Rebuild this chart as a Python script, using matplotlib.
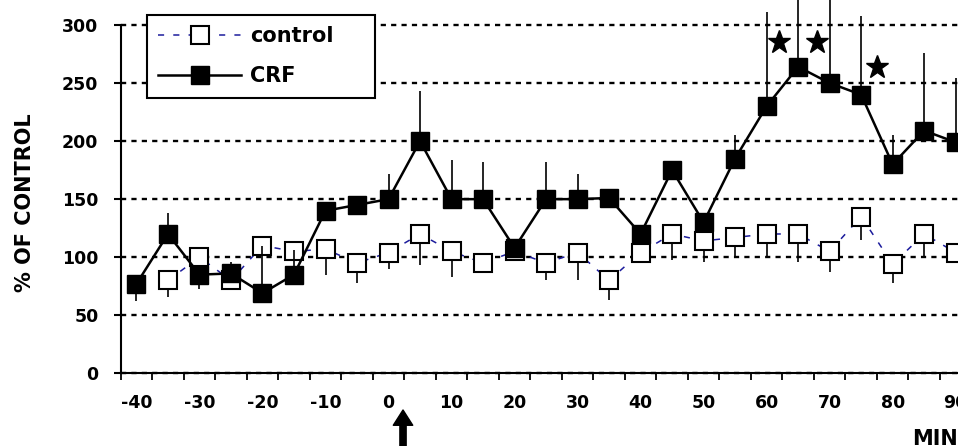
import numpy as np
import matplotlib
matplotlib.use("Agg")
from matplotlib import pyplot as plt
from matplotlib.ticker import MultipleLocator, FixedLocator

plt.rcParams["axes.unicode_minus"] = False

# time (min) and % of control values
t_crf = [-40, -35, -30, -25, -20, -15, -10, -5, 0, 5, 10, 15, 20, 25, 30,
         35, 40, 45, 50, 55, 60, 65, 70, 75, 80, 85, 90]
crf = [77, 120, 85, 86, 69, 85, 140, 145, 150, 200, 150, 150, 108, 150, 150,
       151, 120, 175, 130, 185, 230, 264, 250, 240, 180, 209, 199]
crf_lo = [15, 0, 12, 0, 0, 0, 0, 0, 0, 0, 0, 0, 0, 0, 0,
          0, 0, 0, 0, 0, 0, 0, 0, 0, 0, 0, 0]
crf_hi = [0, 18, 0, 10, 41, 21, 0, 0, 22, 43, 34, 32, 0, 32, 22,
          0, 0, 0, 0, 20, 81, 70, 80, 68, 25, 67, 55]

t_ctl = [-35, -30, -25, -20, -15, -10, -5, 0, 5, 10, 15, 20, 25, 30,
         35, 40, 45, 50, 55, 60, 65, 70, 75, 80, 85, 90]
ctl = [80, 100, 80, 110, 105, 107, 95, 104, 120, 105, 95, 105, 95, 104,
       80, 104, 120, 114, 117, 120, 120, 105, 135, 94, 120, 104]
ctl_lo = [14, 10, 0, 0, 0, 22, 17, 14, 27, 22, 0, 0, 15, 24,
          17, 0, 22, 18, 17, 20, 24, 18, 20, 16, 20, 0]

star_x = [62, 68, 77.5]
star_y = [285, 285, 264]

xticks = [-40, -30, -20, -10, 0, 10, 20, 30, 40, 50, 60, 70, 80, 90]
yticks = [0, 50, 100, 150, 200, 250, 300]

fig = plt.figure(figsize=(9.58, 4.46), dpi=100)
ax = fig.add_axes([120.7 / 958, 72.7 / 446, 837.3 / 958, 348.3 / 446])

# dotted horizontal grid
ax.set_axisbelow(True)
ax.yaxis.grid(True, color="black", linestyle=(0, (2.2, 2.2)), linewidth=1.7)

# control series
eb = ax.errorbar(t_ctl, ctl, yerr=[ctl_lo, [0] * len(ctl)], fmt="none",
                 ecolor="black", elinewidth=1.2, capsize=0, zorder=2)
for c in eb[2]:
    c.set_clip_on(False)
ax.plot(t_ctl, ctl, color="#1c1c9c", linestyle=(0, (4, 6)), linewidth=1.1,
        marker="s", markersize=12.5, markerfacecolor="white",
        markeredgecolor="black", markeredgewidth=1.5, label="control",
        zorder=3)

# CRF series
eb = ax.errorbar(t_crf, crf, yerr=[crf_lo, crf_hi], fmt="none",
                 ecolor="black", elinewidth=1.2, capsize=0, zorder=4)
for c in eb[2]:
    c.set_clip_on(False)
ax.plot(t_crf, crf, color="black", linewidth=1.8, marker="s",
        markersize=12.5, markerfacecolor="black", markeredgecolor="black",
        label="CRF", zorder=5)

ax.plot(star_x, star_y, linestyle="none", marker="*", markersize=17,
        color="black", zorder=6, clip_on=False)

ax.set_xlim(-42.5, 90.37)
ax.set_ylim(0, 300)
ax.spines["top"].set_visible(False)
ax.spines["right"].set_visible(False)
ax.spines["left"].set_linewidth(1.5)
ax.spines["bottom"].set_linewidth(1.5)

ax.xaxis.set_major_locator(FixedLocator(xticks))
ax.xaxis.set_minor_locator(MultipleLocator(5, offset=2.5))
ax.yaxis.set_major_locator(FixedLocator(yticks))
ax.tick_params(axis="x", which="major", length=0, pad=15,
               labelsize=12.5)
ax.tick_params(axis="x", which="minor", length=5, width=1.3)
ax.tick_params(axis="y", which="major", length=5, width=1.5, pad=11,
               labelsize=12.5)
for lab in ax.get_xticklabels() + ax.get_yticklabels():
    lab.set_fontweight("bold")
for gl in ax.get_ygridlines():
    gl.set_clip_on(False)

ax.set_ylabel("% OF CONTROL", fontsize=15, fontweight="bold")
ax.yaxis.set_label_coords(-0.102, 0.49)

fig.text(912 / 958, 1 - 439 / 446, "MIN", fontsize=15, fontweight="bold",
         ha="left", va="center")

# arrow marking the CRF application
ax.annotate("", xy=(2.3, 36), xytext=(2.3, -5),
            xycoords=("data", "figure pixels"),
            textcoords=("data", "figure pixels"),
            arrowprops=dict(facecolor="black", edgecolor="black", width=4.5,
                            headwidth=14, headlength=11, shrink=0),
            annotation_clip=False)

leg = ax.legend(loc="upper left",
                bbox_to_anchor=(146.7 / 958, 1 - 94 / 446, 228.3 / 958, 79 / 446),
                bbox_transform=fig.transFigure, mode="expand",
                borderaxespad=0, fancybox=False, framealpha=1,
                edgecolor="black", prop=dict(size=15, weight="bold"),
                handlelength=4, handletextpad=0.4, labelspacing=0.95,
                borderpad=0.55)
leg.get_frame().set_linewidth(1.5)

fig.savefig("out.png", dpi=100)
